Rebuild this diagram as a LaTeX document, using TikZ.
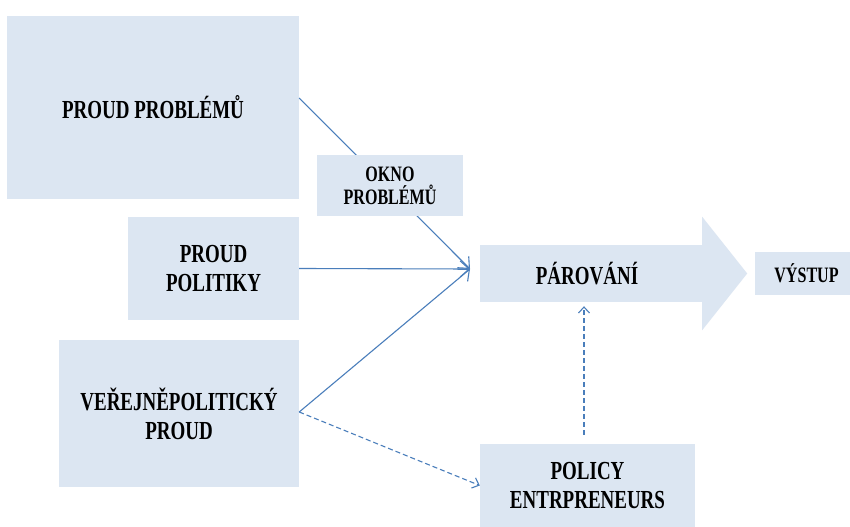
\documentclass[tikz,border=0pt]{standalone}
\usepackage{fontspec}
\newfontfamily\diagfont[FakeStretch=0.73]{Liberation Serif}
\usetikzlibrary{arrows.meta,calc}
\definecolor{streamfill}{HTML}{DCE6F2}
\definecolor{streamline}{HTML}{4A7EBB}
\tikzstyle{streambox} = [fill=streamfill, rectangle, inner sep=0pt, align=center,
    font=\diagfont\bfseries\fontsize{26bp}{29bp}\selectfont]
\tikzstyle{smallbox} = [streambox, font=\diagfont\bfseries\fontsize{22bp}{23bp}\selectfont]
\tikzstyle{link} = [draw=streamline, line width=1.1bp,
    -{Straight Barb[length=9bp,width=16bp]}]
\tikzstyle{dashedlink} = [link, dash pattern=on 5bp off 3bp,
    -{Straight Barb[length=6bp,width=11bp]}]
\begin{document}
\begin{tikzpicture}[x=1bp,y=-1bp]
                \useasboundingbox[fill=white] (0,0) rectangle (850,527);
                \node[streambox, minimum width=292bp, minimum height=183bp] (probl) at (153,107.5) {PROUD PROBLÉMŮ};
                \node[streambox, minimum width=171bp, minimum height=103bp] (politiky) at (213.5,268.5) {PROUD\\POLITIKY};
                \node[streambox, minimum width=240bp, minimum height=147bp] (verejne) at (179,413.5) {VEŘEJNĚPOLITICKÝ\\PROUD};
                \node[streambox, minimum width=223bp, minimum height=57bp] (parovani) at (591.5,273.5) {PÁROVÁNÍ\hspace*{9bp}};
                \fill[streamfill] ($(parovani.north east)+(-1,0)$) -- ++(0,-28) -- ($(parovani.east)+(44,0)$)
                    -- ($(parovani.south east)+(-1,28)$) -- ++(0,-28) -- cycle;
                \node[smallbox, minimum width=103bp, minimum height=43bp] (vystup) at (806.5,273.5) {VÝSTUP};
                \node[streambox, minimum width=215bp, minimum height=83bp] (policy) at (587.5,485.5) {POLICY\\ENTRPRENEURS};
                \coordinate (meet) at (470,269);
                \draw[link] ($(probl.east)+(0,-9.5)$) -- (meet);
                \node[smallbox, minimum width=146bp, minimum height=61bp] (okno) at (390,185.5) {OKNO\\PROBLÉMŮ};
                \draw[link] (politiky.east) -- (meet);
                \draw[link] ($(verejne.east)+(0,-1.5)$) -- (meet);
                \draw[dashedlink] ($(verejne.east)+(0,-1.5)$) -- (policy.west);
                \draw[dashedlink] ($(policy.north)+(-3.5,-9)$) -- ($(parovani.south)+(-7.5,4)$);
            \end{tikzpicture}
\end{document}
